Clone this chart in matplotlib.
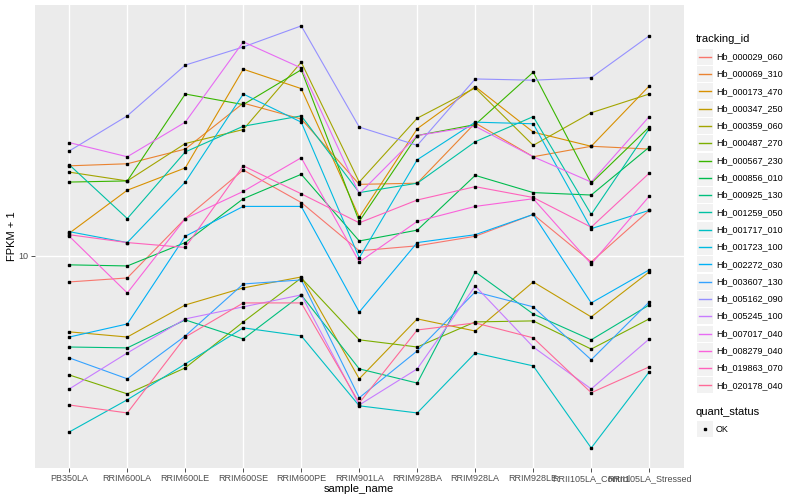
import matplotlib
matplotlib.use("Agg")
import matplotlib.pyplot as plt
from matplotlib.patches import Rectangle
from matplotlib.lines import Line2D
from matplotlib.ticker import NullLocator

plt.rcParams['font.family'] = ['Liberation Sans', 'DejaVu Sans']

samples = ["PB350LA", "RRIM600LA", "RRIM600LE", "RRIM600SE", "RRIM600PE",
           "RRIM901LA", "RRIM928BA", "RRIM928LA", "RRIM928LE",
           "RRII105LA_Control", "RRII105LA_Stressed"]

tracking_ids = ["Hb_000029_060", "Hb_000069_310", "Hb_000173_470", "Hb_000347_250",
                "Hb_000359_060", "Hb_000487_270", "Hb_000567_230", "Hb_000856_010",
                "Hb_000925_130", "Hb_001259_050", "Hb_001717_010", "Hb_001723_100",
                "Hb_002272_030", "Hb_003607_130", "Hb_005162_090", "Hb_005245_100",
                "Hb_007017_040", "Hb_008279_040", "Hb_019863_070", "Hb_020178_040"]

# ggplot hue palette, 20 levels
colors = ["#F8766D", "#EA8331", "#D89000", "#C09B00", "#A3A500", "#7CAE00", "#39B600",
          "#00BB4E", "#00BF7D", "#00C1A3", "#00BFC4", "#00BAE0", "#00B0F6", "#35A2FF",
          "#9590FF", "#C77CFF", "#E76BF3", "#FA62DB", "#FF62BC", "#FF6A98"]

# FPKM + 1 per sample
hb_000029_060 = [8.61, 8.81, 12.4, 16.4, 13.6, 10.3, 10.6, 11.2, 12.7, 9.66, 13.0]
hb_000069_310 = [16.8, 17.0, 18.5, 24.1, 22.0, 15.1, 15.2, 21.5, 17.7, 18.8, 18.5]
hb_000173_470 = [11.4, 14.6, 16.6, 29.3, 26.2, 12.5, 20.8, 26.5, 20.4, 18.8, 26.6]
hb_000347_250 = [6.46, 6.27, 7.54, 8.32, 8.86, 4.93, 6.96, 6.49, 8.61, 7.04, 9.12]
hb_000359_060 = [16.2, 15.4, 19.1, 20.7, 30.5, 15.3, 22.1, 26.3, 18.9, 22.8, 25.4]
hb_000487_270 = [5.04, 4.52, 5.25, 6.84, 8.81, 6.17, 5.92, 6.84, 6.88, 5.85, 6.96]
hb_000567_230 = [15.3, 15.4, 25.4, 23.9, 29.2, 12.2, 20.0, 21.3, 28.8, 15.2, 21.0]
hb_000856_010 = [9.50, 9.44, 10.8, 13.9, 16.0, 10.9, 11.6, 15.9, 14.4, 14.2, 18.7]
hb_000925_130 = [5.92, 5.89, 6.92, 6.20, 7.99, 5.22, 4.81, 9.12, 7.16, 6.17, 7.54]
hb_001259_050 = [16.9, 12.4, 18.2, 21.1, 22.4, 14.4, 15.2, 19.3, 22.3, 12.7, 20.8]
hb_001717_010 = [3.63, 4.37, 5.37, 6.61, 6.31, 4.22, 4.05, 5.72, 5.31, 3.31, 5.13]
hb_001723_100 = [11.5, 10.8, 15.3, 25.4, 21.6, 9.89, 17.4, 21.6, 21.4, 11.7, 13.0]
hb_002272_030 = [6.27, 6.76, 11.2, 13.3, 13.3, 7.24, 10.8, 11.3, 12.7, 7.63, 9.23]
hb_003607_130 = [5.56, 4.93, 6.31, 8.51, 8.71, 4.42, 5.79, 8.13, 7.46, 5.50, 7.67]
hb_005162_090 = [18.3, 22.4, 30.0, 33.3, 37.6, 21.0, 18.9, 27.7, 27.5, 27.9, 35.5]
hb_005245_100 = [4.65, 5.72, 6.96, 7.46, 7.99, 4.24, 5.22, 8.41, 5.92, 4.65, 6.20]
hb_007017_040 = [19.2, 17.7, 21.6, 34.3, 29.5, 14.3, 20.0, 21.1, 17.7, 15.3, 22.3]
hb_008279_040 = [11.2, 8.08, 12.4, 14.5, 17.6, 9.66, 12.2, 13.3, 13.9, 9.55, 14.1]
hb_019863_070 = [11.3, 10.8, 10.5, 16.8, 14.3, 12.1, 13.8, 14.9, 14.0, 11.8, 16.1]
hb_020178_040 = [4.24, 4.05, 6.27, 7.63, 7.63, 4.29, 6.53, 6.80, 6.24, 4.55, 5.28]

series = [hb_000029_060, hb_000069_310, hb_000173_470, hb_000347_250, hb_000359_060,
          hb_000487_270, hb_000567_230, hb_000856_010, hb_000925_130, hb_001259_050,
          hb_001717_010, hb_001723_100, hb_002272_030, hb_003607_130, hb_005162_090,
          hb_005245_100, hb_007017_040, hb_008279_040, hb_019863_070, hb_020178_040]


def fx(px):
    return px / 800


def fy(py):
    return 1 - py / 500


fig = plt.figure(figsize=(8, 5), dpi=100)
ax = fig.add_axes([fx(34.5), fy(468), 649.5 / 800, 463 / 500])
ax.set_facecolor("#EBEBEB")

xs = list(range(len(samples)))
for vals, col in zip(series, colors):
    ax.plot(xs, vals, color=col, lw=0.8, zorder=2)
for vals in series:
    ax.plot(xs, vals, ls="none", marker="s", ms=2.1, color="black", zorder=3)

ax.set_yscale("log")
ax.set_ylim(2.95, 42.4)
ax.set_xlim(-0.6, len(samples) - 0.4)
ax.set_yticks([10])
ax.set_yticklabels(["10"])
ax.yaxis.set_minor_locator(NullLocator())
ax.set_xticks(xs)
ax.set_xticklabels(samples)
ax.grid(True, color="white", lw=1.0)
ax.set_axisbelow(True)
for s in ax.spines.values():
    s.set_visible(False)
ax.tick_params(length=3, width=0.6, color="#333333", labelsize=6.5,
               labelcolor="#4D4D4D", pad=1.5)

fig.text(fx(359), fy(489), "sample_name", ha="center", va="center", fontsize=8)
fig.text(fx(12), fy(236), "FPKM + 1", ha="center", va="center", fontsize=8, rotation=90)

# legend: tracking_id
fig.text(fx(696), fy(39), "tracking_id", ha="left", va="center", fontsize=8)
for i, (tid, col) in enumerate(zip(tracking_ids, colors)):
    yc = 56.7 + 17.3 * i
    fig.add_artist(Rectangle((fx(697), fy(yc + 8)), 16 / 800, 16 / 500,
                             facecolor="#F2F2F2", edgecolor="none",
                             transform=fig.transFigure))
    fig.add_artist(Line2D([fx(699), fx(711)], [fy(yc), fy(yc)], color=col, lw=1.0,
                          transform=fig.transFigure))
    fig.text(fx(716), fy(yc), tid, ha="left", va="center", fontsize=6.5)

# legend: quant_status
fig.text(fx(696), fy(412), "quant_status", ha="left", va="center", fontsize=8)
fig.add_artist(Rectangle((fx(697), fy(437)), 16 / 800, 16 / 500,
                         facecolor="#F2F2F2", edgecolor="none", transform=fig.transFigure))
fig.add_artist(Line2D([fx(705)], [fy(429)], ls="none", marker="s", ms=2.1, color="black",
                      transform=fig.transFigure))
fig.text(fx(716), fy(429), "OK", ha="left", va="center", fontsize=6.5)

fig.savefig("out.png", dpi=100)
